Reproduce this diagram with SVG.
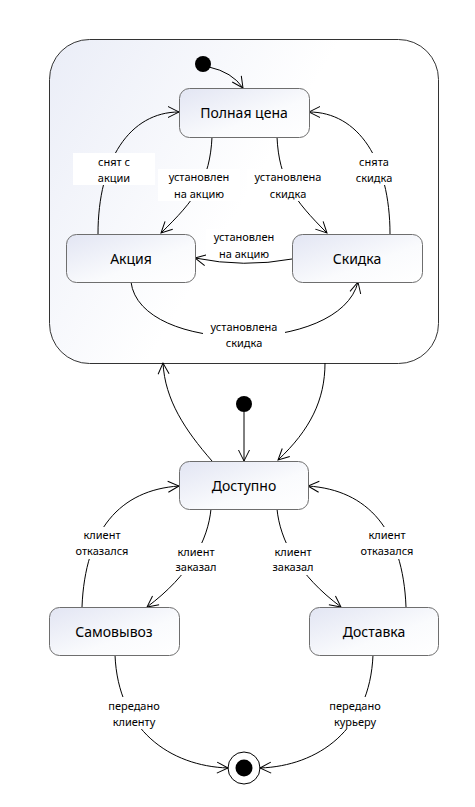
<svg xmlns="http://www.w3.org/2000/svg" width="475" height="807" viewBox="0 0 475 807">
<style>
.st{stroke:#6e6e6e;stroke-width:1;}
.nt{font-family:"Noto Sans","DejaVu Sans",sans-serif;font-size:14px;fill:#000;text-anchor:middle;}
.lb{font-family:"Noto Sans","DejaVu Sans",sans-serif;font-size:11px;fill:#000;text-anchor:middle;}
.lbg{fill:#fff;}
.c{fill:none;stroke:#000;stroke-width:1;}
</style>
<defs>
<linearGradient id="g" x1="0" y1="0" x2="1" y2="1">
<stop offset="0" stop-color="#e2e5f3"/>
<stop offset="0.6" stop-color="#fafbfd"/>
<stop offset="1" stop-color="#ffffff"/>
</linearGradient>
<linearGradient id="gc" x1="0" y1="0" x2="1" y2="0.5">
<stop offset="0" stop-color="#eaedf7"/>
<stop offset="0.6" stop-color="#ffffff"/>
<stop offset="1" stop-color="#ffffff"/>
</linearGradient>
<marker id="a" markerUnits="userSpaceOnUse" markerWidth="14" markerHeight="14" viewBox="-12 -7 14 14" refX="0" refY="0" orient="auto">
<path d="M-11,-5.5 L0,0 L-11,5.5" fill="none" stroke="#000" stroke-width="1"/>
</marker>
</defs>

<g id="container">
<rect x="49.5" y="39.5" width="389" height="324" rx="40" fill="url(#gc)" stroke="#333" stroke-width="1"/>
</g>

<g id="init1"><circle cx="203" cy="64" r="8" fill="#000"/></g>
<g id="init2"><circle cx="244" cy="404" r="8" fill="#000"/></g>
<g id="final">
<circle cx="244" cy="768" r="16" fill="#fff" stroke="#000" stroke-width="1"/>
<circle cx="244" cy="768" r="8.5" fill="#000"/>
</g>

<g id="connectors">
<path class="c" marker-end="url(#a)" d="M209,67 Q232,72 243,88"/>
<path class="c" marker-end="url(#a)" d="M98,234 C98,160 130,112 179,112"/>
<path class="c" marker-end="url(#a)" d="M390,234 C390,160 358,112 309,112"/>
<path class="c" marker-end="url(#a)" d="M212,137 C210,180 195,200 161,233"/>
<path class="c" marker-end="url(#a)" d="M277,137 C279,180 294,200 327,233"/>
<path class="c" marker-end="url(#a)" d="M292,259 Q244,268 195,258"/>
<path class="c" marker-end="url(#a)" d="M131,282 C140,355 340,355 358,282"/>
<path class="c" marker-end="url(#a)" d="M325,363 C325,400 310,430 278,460"/>
<path class="c" marker-end="url(#a)" d="M212,461 C185,430 165,400 163,363"/>
<path class="c" marker-end="url(#a)" d="M244,412 L244,461"/>
<path class="c" marker-end="url(#a)" d="M211,509 C208,540 190,575 147,607"/>
<path class="c" marker-end="url(#a)" d="M277,509 C280,540 298,575 341,607"/>
<path class="c" marker-end="url(#a)" d="M82,607 C85,530 120,490 179,486"/>
<path class="c" marker-end="url(#a)" d="M406,607 C403,530 368,490 308,486"/>
<path class="c" marker-end="url(#a)" d="M115,655 C118,730 170,766 228,768"/>
<path class="c" marker-end="url(#a)" d="M373,655 C370,730 318,766 260,768"/>
</g>

<g id="labels">
<rect class="lbg" x="73" y="153" width="82" height="32"/>
<text class="lb" x="114" y="166">снят с</text><text class="lb" x="114" y="182">акции</text>
<rect class="lbg" x="158" y="169" width="82" height="32"/>
<text class="lb" x="199" y="181">установлен</text><text class="lb" x="199" y="198">на акцию</text>
<rect class="lbg" x="247" y="169" width="82" height="32"/>
<text class="lb" x="288" y="181">установлена</text><text class="lb" x="288" y="198">скидка</text>
<rect class="lbg" x="333" y="153" width="82" height="32"/>
<text class="lb" x="374" y="166">снята</text><text class="lb" x="374" y="182">скидка</text>
<rect class="lbg" x="206" y="229" width="76" height="30"/>
<text class="lb" x="244" y="241">установлен</text><text class="lb" x="244" y="258">на акцию</text>
<rect class="lbg" x="203" y="319" width="82" height="32"/>
<text class="lb" x="244" y="331">установлена</text><text class="lb" x="244" y="347">скидка</text>
<rect class="lbg" x="166" y="543" width="60" height="32"/>
<text class="lb" x="196" y="556">клиент</text><text class="lb" x="196" y="571">заказал</text>
<rect class="lbg" x="263" y="543" width="60" height="32"/>
<text class="lb" x="293" y="556">клиент</text><text class="lb" x="293" y="571">заказал</text>
<rect class="lbg" x="70" y="527" width="64" height="32"/>
<text class="lb" x="102" y="539">клиент</text><text class="lb" x="102" y="555">отказался</text>
<rect class="lbg" x="355" y="527" width="64" height="32"/>
<text class="lb" x="387" y="539">клиент</text><text class="lb" x="387" y="555">отказался</text>
<rect class="lbg" x="102" y="697" width="64" height="32"/>
<text class="lb" x="134" y="710">передано</text><text class="lb" x="134" y="726">клиенту</text>
<rect class="lbg" x="323" y="697" width="64" height="32"/>
<text class="lb" x="355" y="710">передано</text><text class="lb" x="355" y="726">курьеру</text>
</g>

<g id="n-full"><rect class="st" x="179.5" y="88.5" width="130" height="49" rx="10" fill="url(#g)"/><text class="nt" x="244" y="118">Полная цена</text></g>
<g id="n-akc"><rect class="st" x="66.5" y="234.5" width="129" height="48" rx="10" fill="url(#g)"/><text class="nt" x="131" y="264">Акция</text></g>
<g id="n-skid"><rect class="st" x="292.5" y="234.5" width="130" height="48" rx="10" fill="url(#g)"/><text class="nt" x="357" y="264">Скидка</text></g>
<g id="n-dost"><rect class="st" x="179.5" y="461.5" width="129" height="48" rx="10" fill="url(#g)"/><text class="nt" x="244" y="491">Доступно</text></g>
<g id="n-sam"><rect class="st" x="49.5" y="607.5" width="130" height="48" rx="10" fill="url(#g)"/><text class="nt" x="114" y="637">Самовывоз</text></g>
<g id="n-deliv"><rect class="st" x="309.5" y="607.5" width="129" height="48" rx="10" fill="url(#g)"/><text class="nt" x="374" y="637">Доставка</text></g>
</svg>
